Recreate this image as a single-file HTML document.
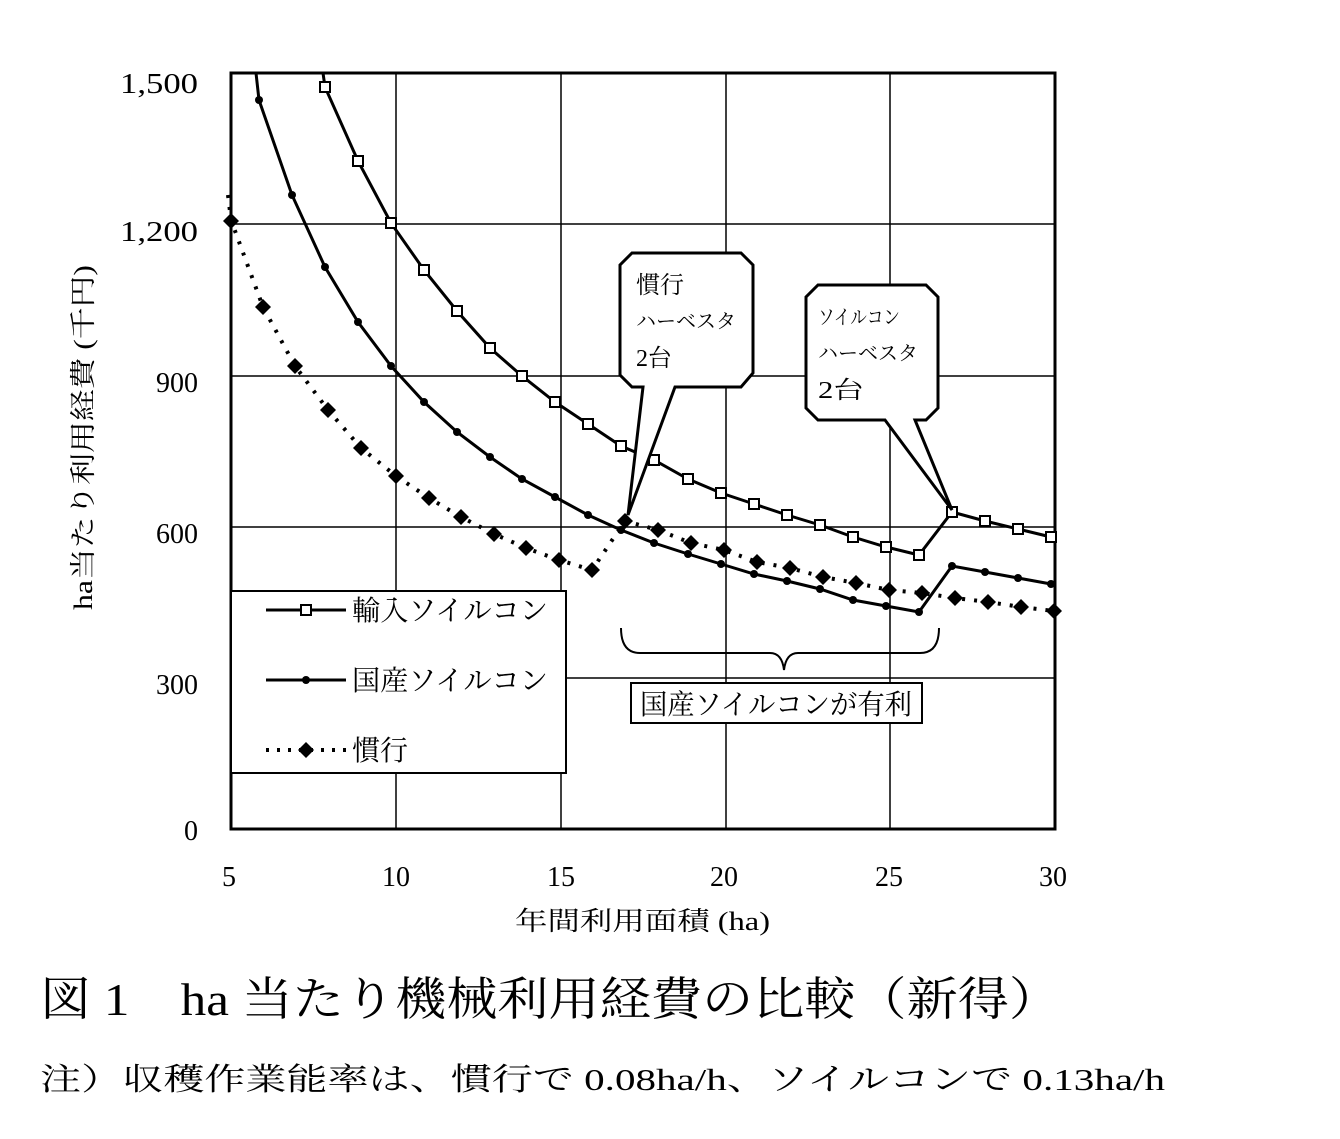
<!DOCTYPE html>
<html><head><meta charset="utf-8"><style>
body{margin:0;background:#fff;}
svg text{font-family:"Liberation Serif","Noto Serif CJK JP","Noto Serif CJK SC",serif;fill:#000;}
.j{font-family:"Liberation Serif","Noto Serif CJK SC",serif;}
.g{font-family:"Noto Sans CJK JP",sans-serif;}
</style></head><body>
<svg width="1340" height="1134" viewBox="0 0 1340 1134" xmlns="http://www.w3.org/2000/svg">
<g stroke="#000" stroke-width="1.5">
<line x1="396" y1="73" x2="396" y2="829"/><line x1="561" y1="73" x2="561" y2="829"/>
<line x1="726" y1="73" x2="726" y2="829"/><line x1="890" y1="73" x2="890" y2="829"/>
<line x1="231" y1="678" x2="1055" y2="678"/><line x1="231" y1="527" x2="1055" y2="527"/>
<line x1="231" y1="376" x2="1055" y2="376"/><line x1="231" y1="224" x2="1055" y2="224"/>
</g>
<rect x="231" y="73" width="824" height="756" fill="none" stroke="#000" stroke-width="3"/>
<g font-size="28" text-anchor="end">
<text x="198" y="93" textLength="78" lengthAdjust="spacingAndGlyphs">1,500</text><text x="198" y="241" textLength="78" lengthAdjust="spacingAndGlyphs">1,200</text><text x="198" y="392">900</text>
<text x="198" y="543">600</text><text x="198" y="694">300</text><text x="198" y="840">0</text>
</g>
<g font-size="28" text-anchor="middle">
<text x="229" y="886">5</text><text x="396" y="886">10</text><text x="561" y="886">15</text>
<text x="724" y="886">20</text><text x="889" y="886">25</text><text x="1053" y="886">30</text>
</g>
<text x="515" y="930" font-size="26" class="j" textLength="255" lengthAdjust="spacingAndGlyphs">年間利用面積 (ha)</text>
<text transform="translate(92,610) rotate(-90)" font-size="26" class="j" textLength="345" lengthAdjust="spacingAndGlyphs">ha当たり利用経費 (千円)</text>
<!-- 輸入 -->
<polyline fill="none" stroke="#000" stroke-width="3" points="323,73 325,87 358,161 391,223 424,270 457,311 490,348 522,376 555,402 588,424 621,446 654,460 688,479 721,493 754,504 787,515 820,525 853,537 886,547 919,555 952,512 985,521 1018,529 1051,537"/>
<g fill="#fff" stroke="#000" stroke-width="2">
<rect x="320" y="82" width="10" height="10"/><rect x="353" y="156" width="10" height="10"/><rect x="386" y="218" width="10" height="10"/><rect x="419" y="265" width="10" height="10"/><rect x="452" y="306" width="10" height="10"/><rect x="485" y="343" width="10" height="10"/><rect x="517" y="371" width="10" height="10"/><rect x="550" y="397" width="10" height="10"/><rect x="583" y="419" width="10" height="10"/><rect x="616" y="441" width="10" height="10"/><rect x="649" y="455" width="10" height="10"/><rect x="683" y="474" width="10" height="10"/><rect x="716" y="488" width="10" height="10"/><rect x="749" y="499" width="10" height="10"/><rect x="782" y="510" width="10" height="10"/><rect x="815" y="520" width="10" height="10"/><rect x="848" y="532" width="10" height="10"/><rect x="881" y="542" width="10" height="10"/><rect x="914" y="550" width="10" height="10"/><rect x="947" y="507" width="10" height="10"/><rect x="980" y="516" width="10" height="10"/><rect x="1013" y="524" width="10" height="10"/><rect x="1046" y="532" width="10" height="10"/>
</g>
<!-- 国産 -->
<polyline fill="none" stroke="#000" stroke-width="3" points="256,73 259,100 292,195 325,267 358,322 391,366 424,402 457,432 490,457 522,479 555,497 588,515 621,530 654,543 688,554 721,564 754,574 787,581 820,589 853,600 886,606 919,612 952,566 985,572 1018,578 1051,584"/>
<g fill="#000">
<circle cx="259" cy="100" r="4"/><circle cx="292" cy="195" r="4"/><circle cx="325" cy="267" r="4"/><circle cx="358" cy="322" r="4"/><circle cx="391" cy="366" r="4"/><circle cx="424" cy="402" r="4"/><circle cx="457" cy="432" r="4"/><circle cx="490" cy="457" r="4"/><circle cx="522" cy="479" r="4"/><circle cx="555" cy="497" r="4"/><circle cx="588" cy="515" r="4"/><circle cx="621" cy="530" r="4"/><circle cx="654" cy="543" r="4"/><circle cx="688" cy="554" r="4"/><circle cx="721" cy="564" r="4"/><circle cx="754" cy="574" r="4"/><circle cx="787" cy="581" r="4"/><circle cx="820" cy="589" r="4"/><circle cx="853" cy="600" r="4"/><circle cx="886" cy="606" r="4"/><circle cx="919" cy="612" r="4"/><circle cx="952" cy="566" r="4"/><circle cx="985" cy="572" r="4"/><circle cx="1018" cy="578" r="4"/><circle cx="1051" cy="584" r="4"/>
</g>
<!-- 慣行 -->
<polyline fill="none" stroke="#000" stroke-width="4" stroke-dasharray="3,9" points="228,195 231,220 263,307 295,366 328,410 361,448 396,476 429,498 461,517 494,534 526,548 559,560 592,570 625,521 658,530 691,543 724,550 757,562 790,568 823,577 856,583 889,590 922,593 955,598 988,602 1021,607 1054,611"/>
<g fill="#000">
<path d="M231,213 l8,8 -8,8 -8,-8z"/><path d="M263,299 l8,8 -8,8 -8,-8z"/><path d="M295,358 l8,8 -8,8 -8,-8z"/><path d="M328,402 l8,8 -8,8 -8,-8z"/><path d="M361,440 l8,8 -8,8 -8,-8z"/><path d="M396,468 l8,8 -8,8 -8,-8z"/><path d="M429,490 l8,8 -8,8 -8,-8z"/><path d="M461,509 l8,8 -8,8 -8,-8z"/><path d="M494,526 l8,8 -8,8 -8,-8z"/><path d="M526,540 l8,8 -8,8 -8,-8z"/><path d="M559,552 l8,8 -8,8 -8,-8z"/><path d="M592,562 l8,8 -8,8 -8,-8z"/><path d="M625,513 l8,8 -8,8 -8,-8z"/><path d="M658,522 l8,8 -8,8 -8,-8z"/><path d="M691,535 l8,8 -8,8 -8,-8z"/><path d="M724,542 l8,8 -8,8 -8,-8z"/><path d="M757,554 l8,8 -8,8 -8,-8z"/><path d="M790,560 l8,8 -8,8 -8,-8z"/><path d="M823,569 l8,8 -8,8 -8,-8z"/><path d="M856,575 l8,8 -8,8 -8,-8z"/><path d="M889,582 l8,8 -8,8 -8,-8z"/><path d="M922,585 l8,8 -8,8 -8,-8z"/><path d="M955,590 l8,8 -8,8 -8,-8z"/><path d="M988,594 l8,8 -8,8 -8,-8z"/><path d="M1021,599 l8,8 -8,8 -8,-8z"/><path d="M1054,603 l8,8 -8,8 -8,-8z"/>
</g>
<!-- legend -->
<rect x="231" y="591" width="335" height="182" fill="#fff" stroke="#000" stroke-width="2"/>
<g stroke="#000" stroke-width="3">
<line x1="266" y1="610" x2="346" y2="610"/><line x1="266" y1="680" x2="346" y2="680"/>
<line x1="266" y1="750" x2="346" y2="750" stroke-dasharray="3,8" stroke-width="4"/>
</g>
<rect x="301" y="605" width="10" height="10" fill="#fff" stroke="#000" stroke-width="2"/>
<circle cx="306" cy="680" r="4"/>
<path d="M306,742 l8,8 -8,8 -8,-8z"/>
<g font-size="28" class="j"><text x="352" y="620" textLength="196" lengthAdjust="spacingAndGlyphs">輸入ソイルコン</text><text x="352" y="690" textLength="196" lengthAdjust="spacingAndGlyphs">国産ソイルコン</text><text x="352" y="760">慣行</text></g>
<!-- brace -->
<path d="M621,628 Q621,653 640,653 L770,653 Q782,653 784,670 Q786,653 798,653 L920,653 Q939,653 939,628" fill="none" stroke="#000" stroke-width="2"/>
<rect x="631" y="683" width="291" height="40" fill="#fff" stroke="#000" stroke-width="2"/>
<text x="640" y="714" font-size="28" class="j" textLength="272" lengthAdjust="spacingAndGlyphs">国産ソイルコンが有利</text>
<!-- callouts -->
<path d="M632,253 L741,253 L753,265 L753,373 L741,387 L675,387 L628,515 L643,387 L632,387 L620,375 L620,265 Z" fill="#fff" stroke="#000" stroke-width="3"/>
<g class="g" font-size="24"><text x="636" y="293">慣行</text><text x="636" y="328" font-size="20" textLength="100" lengthAdjust="spacingAndGlyphs">ハーベスタ</text><text x="636" y="366">2台</text></g>
<path d="M818,285 L926,285 L938,297 L938,408 L926,420 L915,420 L952,510 L885,420 L818,420 L806,408 L806,297 Z" fill="#fff" stroke="#000" stroke-width="3"/>
<g class="g" font-size="20"><text x="818" y="324" textLength="82" lengthAdjust="spacingAndGlyphs">ソイルコン</text><text x="818" y="360" textLength="100" lengthAdjust="spacingAndGlyphs">ハーベスタ</text><text x="818" y="398" font-size="24" textLength="46" lengthAdjust="spacingAndGlyphs">2台</text></g>
<text x="40" y="1015" font-size="46" class="j" textLength="1020" lengthAdjust="spacingAndGlyphs">図 1　ha 当たり機械利用経費の比較（新得）</text>
<text x="40" y="1090" font-size="31" class="j" textLength="1125" lengthAdjust="spacingAndGlyphs">注）収穫作業能率は、慣行で 0.08ha/h、ソイルコンで 0.13ha/h</text>
</svg>
</body></html>
